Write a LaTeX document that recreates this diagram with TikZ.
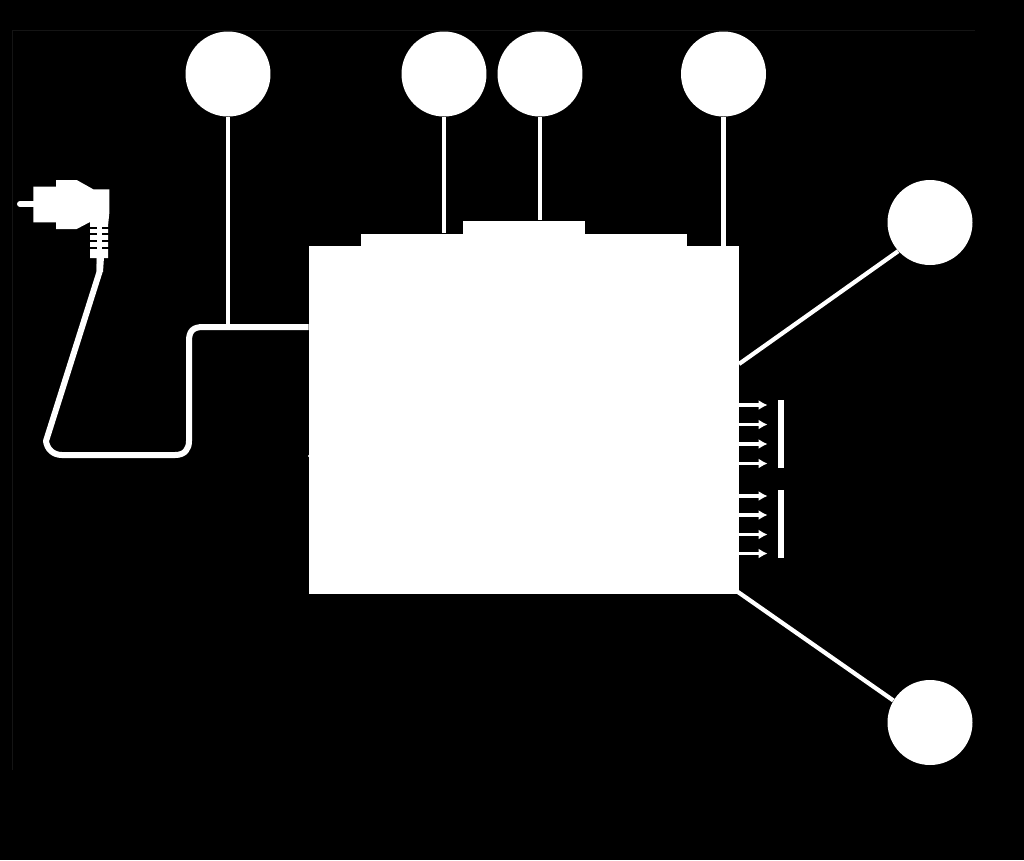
\documentclass[tikz,border=0pt]{standalone}
\usepackage{tikz}
\usetikzlibrary{arrows.meta}

\begin{document}
\begin{tikzpicture}[
  x=0.02cm, y=-0.02cm,
  disc/.style={circle, fill=white, inner sep=0pt, minimum size=1.7cm},
  block/.style={rectangle, fill=white, inner sep=0pt},
  wire/.style={draw=white, line width=0.085cm},
  cable/.style={draw=white, line width=0.12cm, line join=round},
  arr/.style={-{Latex[length=1.8mm,width=2mm]}, draw=white, fill=white, line width=0.065cm, shorten >=0.2cm}
]
\fill[black] (0,0) rectangle (1024,860);
\draw[black!92!white, line width=0.02cm] (12,770) -- (12,30) -- (975,30);

\node[disc] at (228,74)    (lamp)   {};
\node[disc] at (444,74)    (dial)   {};
\node[disc] at (540,74)    (valve)  {};
\node[disc] at (723.5,74)  (probe)  {};
\node[disc] at (930,222.5) (upper)  {};
\node[disc] at (930,722.5) (lower)  {};

\node[block, minimum width=8.6cm, minimum height=6.96cm] at (524,420) (housing) {};
\node[block, minimum width=6.52cm, minimum height=0.25cm] at (524,240) (lid) {};
\node[block, minimum width=2.44cm, minimum height=0.28cm] at (524,227.5) (cap) {};

\node[block, minimum width=0.13cm, minimum height=1.35cm] at (781.2,434.2) (barA) {};
\node[block, minimum width=0.13cm, minimum height=1.35cm] at (781.2,524.2) (barB) {};

% plug
\fill[white] (33.3,186.7) -- (56,186.7) -- (56,180) -- (76.7,180) -- (93.3,189.3) -- (109.3,189.3)
  -- (109.3,213.3) -- (108,226) -- (108,258) -- (90,258) -- (90,222) -- (76.7,229) -- (56,229) -- (56,222.3) -- (33.3,222.3) -- cycle;
\draw[white, line width=0.12cm, line cap=round] (20,204) -- (34,204);
\fill[black] (89,227) rectangle (109,229);
\fill[black] (89,233) rectangle (109,235);
\fill[black] (89,239.5) rectangle (109,241.5);
\fill[black] (89,246.5) rectangle (109,248.5);
\fill[white] (97.3,225) rectangle (101.7,250);
\fill[white] (96.5,257) -- (104,257) -- (103,272) -- (96.5,272) -- cycle;
\fill[white] (309,456) circle (1.2);

\coordinate (plugend) at (100,256);
\coordinate (tee) at (228,327);
\coordinate (tapA) at (739,364);
\coordinate (tapB) at (738,592);
\coordinate (arrA) at (739,405);
\coordinate (arrB) at (739,424.5);
\coordinate (arrC) at (739,444);
\coordinate (arrD) at (739,463.5);
\coordinate (arrE) at (739,496);
\coordinate (arrF) at (739,515);
\coordinate (arrG) at (739,534.5);
\coordinate (arrH) at (739,553.5);

\path[cable] (plugend) -- (99.5,272) -- (46,441) .. controls (47,449) and (53,455) .. (62,455)
  -- (175,455) .. controls (185,455) and (189,449) .. (189,441) -- (189,341)
  .. controls (189,331) and (193,327) .. (203,327) -- (housing.west |- tee);
\draw[wire] (lamp) -- (tee);
\draw[wire] (dial) -- (dial |- lid.north);
\draw[wire] (valve) -- (valve |- cap.north);
\draw[wire] (probe) -- (probe |- housing.north);
\draw[wire] (tapA) -- (upper.222);
\draw[wire] (tapB) -- (lower.149);

\draw[arr] (arrA) -- (arrA -| barA.west);
\draw[arr] (arrB) -- (arrB -| barA.west);
\draw[arr] (arrC) -- (arrC -| barA.west);
\draw[arr] (arrD) -- (arrD -| barA.west);
\draw[arr] (arrE) -- (arrE -| barB.west);
\draw[arr] (arrF) -- (arrF -| barB.west);
\draw[arr] (arrG) -- (arrG -| barB.west);
\draw[arr] (arrH) -- (arrH -| barB.west);

\path[use as bounding box] (0,0) rectangle (1024,860);
\end{tikzpicture}
\end{document}
